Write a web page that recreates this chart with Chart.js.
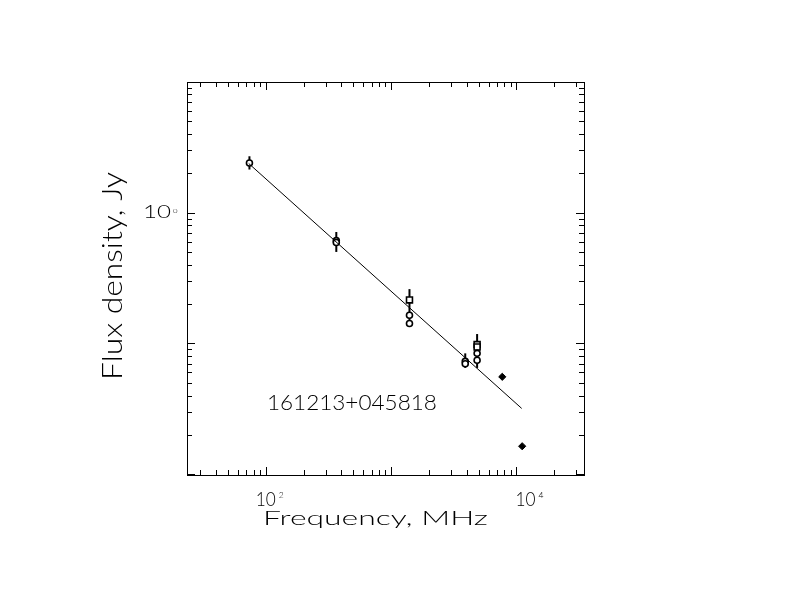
<!DOCTYPE html>
<html>
<head>
<meta charset="utf-8">
<title>161213+045818</title>
<script src="https://cdn.jsdelivr.net/npm/chart.js@4.4.1/dist/chart.umd.min.js"></script>
<style>
  html, body { margin: 0; padding: 0; background: #fff; }
  #wrap { width: 792px; height: 612px; position: relative; }
</style>
</head>
<body>
<div id="wrap"><canvas id="spectrum"></canvas></div>
<script>
const openFreq = [74, 365, 365, 1400, 1400, 3900, 3900, 4850, 4850];
const openFlux = [2.39, 0.61, 0.59, 0.164, 0.142, 0.073, 0.070, 0.084, 0.0745];
const squareFreq = [1400, 4850, 4850];
const squareFlux = [0.215, 0.098, 0.094];
const filledFreq = [7700, 11100];
const filledFlux = [0.0556, 0.0164];

// vertical error bars
const errFreq = [74, 365, 1400, 3900, 4850];
const errLow = [2.13, 0.50, 0.142, 0.065, 0.065];
const errHigh = [2.69, 0.71, 0.26, 0.084, 0.118];

// power-law fit
const fitFreq = [73, 11000];
const fitFlux = [2.37, 0.0319];

// axes
const xRange = [23.5, 34560];
const yRange = [0.00989, 9.93];
const xLabelExps = [2, 4];
const yLabelExps = [0];

const sourceName = "161213+045818";
const sourceAt = [102, 0.031];
const xTitle = "Frequency, MHz";
const yTitle = "Flux density, Jy";

// style
const FONT = "Lato, 'DejaVu Sans', sans-serif";
const WEIGHT = '300';
const CAP = 0.717;
const xLabelNudge = [-10, -1];

function pts(xs, ys) { return xs.map((x, i) => ({ x: x, y: ys[i] })); }

// draw text squeezed/stretched to a given cap height and length
function fitText(ctx, text, x, y, capH, len, angle) {
  ctx.save();
  ctx.font = WEIGHT + ' ' + (capH / CAP).toFixed(2) + 'px ' + FONT;
  const w = ctx.measureText(text).width;
  ctx.translate(x, y);
  if (angle) ctx.rotate(angle);
  ctx.scale(len / w, 1);
  ctx.textAlign = 'left';
  ctx.textBaseline = 'alphabetic';
  ctx.fillText(text, 0, 0);
  ctx.restore();
}

const errorBars = {
  id: 'errorBars',
  beforeDatasetsDraw(chart) {
    const ctx = chart.ctx, xs = chart.scales.x, ys = chart.scales.y;
    ctx.save();
    ctx.strokeStyle = '#000';
    ctx.lineWidth = 2;
    errFreq.forEach((f, i) => {
      const px = xs.getPixelForValue(f);
      ctx.beginPath();
      ctx.moveTo(px, ys.getPixelForValue(errLow[i]));
      ctx.lineTo(px, ys.getPixelForValue(errHigh[i]));
      ctx.stroke();
    });
    ctx.restore();
  }
};

const frame = {
  id: 'frame',
  afterDraw(chart) {
    const ctx = chart.ctx, a = chart.chartArea;
    const xs = chart.scales.x, ys = chart.scales.y;
    ctx.save();
    ctx.strokeStyle = '#000';
    ctx.fillStyle = '#000';
    ctx.lineWidth = 1;
    ctx.strokeRect(Math.round(a.left) + 0.5, Math.round(a.top) + 0.5,
      Math.round(a.right - a.left), Math.round(a.bottom - a.top));

    // inward log ticks on all four sides
    ctx.beginPath();
    const ticks = (range, fn) => {
      for (let d = Math.floor(Math.log10(range[0])); d <= Math.ceil(Math.log10(range[1])); d++) {
        for (let m = 1; m <= 9; m++) {
          const v = m * Math.pow(10, d);
          if (v > range[0] && v < range[1]) fn(v, m === 1 ? 8 : 5);
        }
      }
    };
    ticks(xRange, (v, len) => {
      const px = Math.round(xs.getPixelForValue(v)) + 0.5;
      ctx.moveTo(px, a.bottom); ctx.lineTo(px, a.bottom - len);
      ctx.moveTo(px, a.top); ctx.lineTo(px, a.top + len);
    });
    ticks(yRange, (v, len) => {
      const py = Math.round(ys.getPixelForValue(v)) + 0.5;
      ctx.moveTo(a.left, py); ctx.lineTo(a.left + len, py);
      ctx.moveTo(a.right, py); ctx.lineTo(a.right - len, py);
    });
    ctx.stroke();

    // tick labels 10^k
    xLabelExps.forEach((e, i) => {
      const px = xs.getPixelForValue(Math.pow(10, e)) + xLabelNudge[i];
      fitText(ctx, '10', px, a.bottom + 31, 14, 20);
      fitText(ctx, String(e), px + 23, a.bottom + 23, 6, 5);
    });
    yLabelExps.forEach(e => {
      const py = ys.getPixelForValue(Math.pow(10, e));
      fitText(ctx, '10', a.left - 44, py + 5, 12, 28);
      fitText(ctx, String(e), a.left - 14, py + 0.5, 4.5, 4.5);
    });

    // axis titles
    fitText(ctx, xTitle, 263, 525, 13.3, 225);
    fitText(ctx, yTitle, 121.5, 380, 20, 208, -Math.PI / 2);

    // source name
    fitText(ctx, sourceName, xs.getPixelForValue(sourceAt[0]),
      ys.getPixelForValue(sourceAt[1]), 15, 170);
    ctx.restore();
  }
};

new Chart(document.getElementById('spectrum'), {
  type: 'scatter',
  data: {
    datasets: [
      {
        type: 'line',
        data: pts(fitFreq, fitFlux),
        borderColor: '#000',
        borderWidth: 1,
        pointRadius: 0,
        fill: false
      },
      {
        data: pts(openFreq, openFlux),
        pointStyle: 'circle',
        pointRadius: 3,
        borderWidth: 1.6,
        borderColor: '#000',
        backgroundColor: '#fff'
      },
      {
        data: pts(squareFreq, squareFlux),
        pointStyle: 'rect',
        pointRadius: 4.2,
        borderWidth: 1.6,
        borderColor: '#000',
        backgroundColor: '#fff'
      },
      {
        data: pts(filledFreq, filledFlux),
        pointStyle: 'rectRot',
        pointRadius: 3.6,
        borderWidth: 1,
        borderColor: '#000',
        backgroundColor: '#000'
      }
    ]
  },
  options: {
    responsive: true,
    maintainAspectRatio: false,
    devicePixelRatio: 1,
    animation: false,
    layout: { padding: { left: 187, right: 208, top: 82, bottom: 137 } },
    plugins: { legend: { display: false }, tooltip: { enabled: false } },
    scales: {
      x: { type: 'logarithmic', min: xRange[0], max: xRange[1], bounds: 'data', display: false },
      y: { type: 'logarithmic', min: yRange[0], max: yRange[1], bounds: 'data', display: false }
    }
  },
  plugins: [errorBars, frame]
});
</script>
</body>
</html>
